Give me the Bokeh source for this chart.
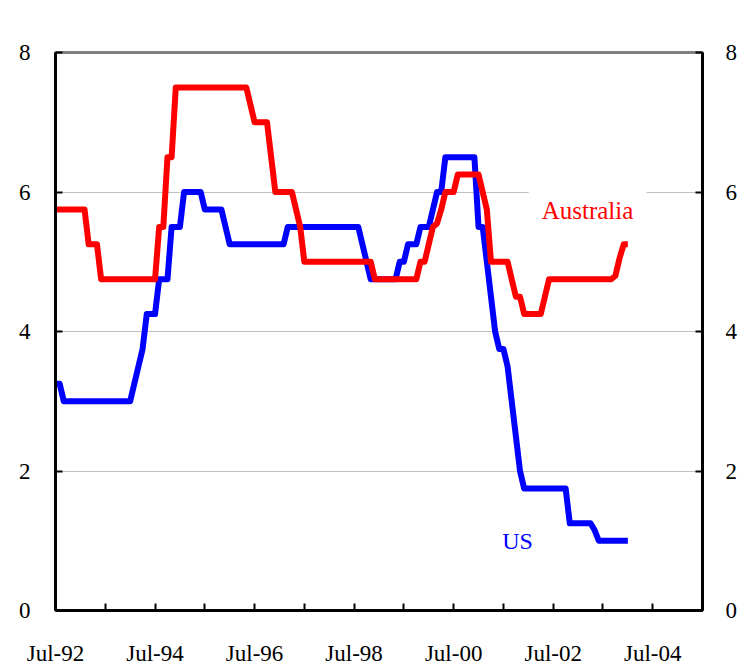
import pandas as pd
from bokeh.plotting import figure
from bokeh.models import Range1d, LinearAxis, FixedTicker, Label
from bokeh.embed import file_html
from bokeh.resources import INLINE

# Monthly official cash rates, Jul-92 .. Jan-04 (one row per Jul..Jun year)
AUSTRALIA = [
    5.75, 5.75, 5.75, 5.75, 5.75, 5.75, 5.75, 5.75, 5.25, 5.25, 5.25, 4.75,
    4.75, 4.75, 4.75, 4.75, 4.75, 4.75, 4.75, 4.75, 4.75, 4.75, 4.75, 4.75,
    4.75, 5.5, 5.5, 6.5, 6.5, 7.5, 7.5, 7.5, 7.5, 7.5, 7.5, 7.5,
    7.5, 7.5, 7.5, 7.5, 7.5, 7.5, 7.5, 7.5, 7.5, 7.5, 7.5, 7.25,
    7.0, 7.0, 7.0, 7.0, 6.5, 6.0, 6.0, 6.0, 6.0, 6.0, 5.75, 5.5,
    5.0, 5.0, 5.0, 5.0, 5.0, 5.0, 5.0, 5.0, 5.0, 5.0, 5.0, 5.0,
    5.0, 5.0, 5.0, 5.0, 5.0, 4.75, 4.75, 4.75, 4.75, 4.75, 4.75, 4.75,
    4.75, 4.75, 4.75, 4.75, 5.0, 5.0, 5.25, 5.5, 5.55, 5.75, 6.0, 6.0,
    6.0, 6.25, 6.25, 6.25, 6.25, 6.25, 6.25, 6.0, 5.75, 5.0, 5.0, 5.0,
    5.0, 5.0, 4.75, 4.5, 4.5, 4.25, 4.25, 4.25, 4.25, 4.25, 4.5, 4.75,
    4.75, 4.75, 4.75, 4.75, 4.75, 4.75, 4.75, 4.75, 4.75, 4.75, 4.75, 4.75,
    4.75, 4.75, 4.75, 4.8, 5.05, 5.25, 5.25,
]
US = [
    3.25, 3.25, 3.0, 3.0, 3.0, 3.0, 3.0, 3.0, 3.0, 3.0, 3.0, 3.0,
    3.0, 3.0, 3.0, 3.0, 3.0, 3.0, 3.0, 3.25, 3.5, 3.75, 4.25, 4.25,
    4.25, 4.75, 4.75, 4.75, 5.5, 5.5, 5.5, 6.0, 6.0, 6.0, 6.0, 6.0,
    5.75, 5.75, 5.75, 5.75, 5.75, 5.5, 5.25, 5.25, 5.25, 5.25, 5.25, 5.25,
    5.25, 5.25, 5.25, 5.25, 5.25, 5.25, 5.25, 5.25, 5.5, 5.5, 5.5, 5.5,
    5.5, 5.5, 5.5, 5.5, 5.5, 5.5, 5.5, 5.5, 5.5, 5.5, 5.5, 5.5,
    5.5, 5.5, 5.25, 5.0, 4.75, 4.75, 4.75, 4.75, 4.75, 4.75, 4.75, 5.0,
    5.0, 5.25, 5.25, 5.25, 5.5, 5.5, 5.5, 5.75, 6.0, 6.0, 6.5, 6.5,
    6.5, 6.5, 6.5, 6.5, 6.5, 6.5, 5.5, 5.5, 5.0, 4.5, 4.0, 3.75,
    3.75, 3.5, 3.0, 2.5, 2.0, 1.75, 1.75, 1.75, 1.75, 1.75, 1.75, 1.75,
    1.75, 1.75, 1.75, 1.75, 1.25, 1.25, 1.25, 1.25, 1.25, 1.25, 1.15, 1.0,
    1.0, 1.0, 1.0, 1.0, 1.0, 1.0, 1.0,
]
MONTHS = list(pd.date_range("1992-07-01", periods=len(AUSTRALIA), freq="MS").strftime("%b-%y"))
MONTH_INDEX = list(range(len(MONTHS)))

X_TICKS = list(range(0, 157, 12))            # every July, Jul-92 .. Jul-05
X_TICK_LABELS = {0: "Jul-92", 24: "Jul-94", 48: "Jul-96", 72: "Jul-98",
                 96: "Jul-00", 120: "Jul-02", 144: "Jul-04"}
Y_TICKS = [0, 2, 4, 6, 8]
GRID_TICKS = [2, 4, 6]

SERIF = "Liberation Serif"

p = figure(width=751, height=668, output_backend="svg", toolbar_location=None,
           x_range=Range1d(0, 156), y_range=Range1d(0, 8),
           min_border_left=55, min_border_right=49, min_border_top=52, min_border_bottom=56,
           border_fill_color="white", background_fill_color="white")

p.outline_line_color = "#808080"
p.outline_line_width = 3

p.xgrid.visible = False
p.ygrid.ticker = FixedTicker(ticks=GRID_TICKS)
p.ygrid.grid_line_color = "#808080"
p.ygrid.grid_line_dash = "1 1"
p.ygrid.grid_line_width = 1

def style_axis(ax):
    ax.axis_line_color = "black"
    ax.axis_line_width = 3
    ax.major_tick_line_color = "black"
    ax.major_tick_line_width = 2
    ax.major_tick_in = 7
    ax.major_tick_out = 0
    ax.minor_tick_line_color = None
    ax.major_label_text_font = SERIF
    ax.major_label_text_font_size = "23px"
    ax.major_label_text_color = "black"

xa = p.xaxis[0]
xa.ticker = FixedTicker(ticks=X_TICKS)
xa.major_label_overrides = {t: X_TICK_LABELS.get(t, "") for t in X_TICKS}
style_axis(xa)
xa.major_label_standoff = 30

ya = p.yaxis[0]
ya.ticker = FixedTicker(ticks=Y_TICKS)
style_axis(ya)
ya.major_label_standoff = 25

yr = LinearAxis(ticker=FixedTicker(ticks=Y_TICKS))
style_axis(yr)
yr.major_label_standoff = 23
p.add_layout(yr, "right")

p.line(MONTH_INDEX, US, line_color="#0000FF", line_width=6, line_join="round")
p.line(MONTH_INDEX, AUSTRALIA, line_color="#FF0000", line_width=6, line_join="round")

p.add_layout(Label(x=114.1, y=5.74, text="Australia", text_color="#FF0000",
                   text_font=SERIF, text_font_size="25px", text_baseline="middle",
                   background_fill_color="white", padding=13))
p.add_layout(Label(x=111.4, y=0.99, text="US", text_color="#0000FF",
                   text_font=SERIF, text_font_size="24px", text_baseline="middle",
                   text_align="center"))
p.add_layout(Label(x=-5.8, y=8.5, text="%", text_font=SERIF, text_font_size="23px",
                   text_baseline="middle", text_align="center"))
p.add_layout(Label(x=161.1, y=8.5, text="%", text_font=SERIF, text_font_size="23px",
                   text_baseline="middle", text_align="center"))
p.add_layout(Label(x=74, y=8.665, text="OFFICIAL INTEREST RATES", text_font="Liberation Sans",
                   text_font_style="bold", text_font_size="35px", text_baseline="alphabetic",
                   text_align="center"))

open("out.html", "w").write(file_html(p, INLINE))
